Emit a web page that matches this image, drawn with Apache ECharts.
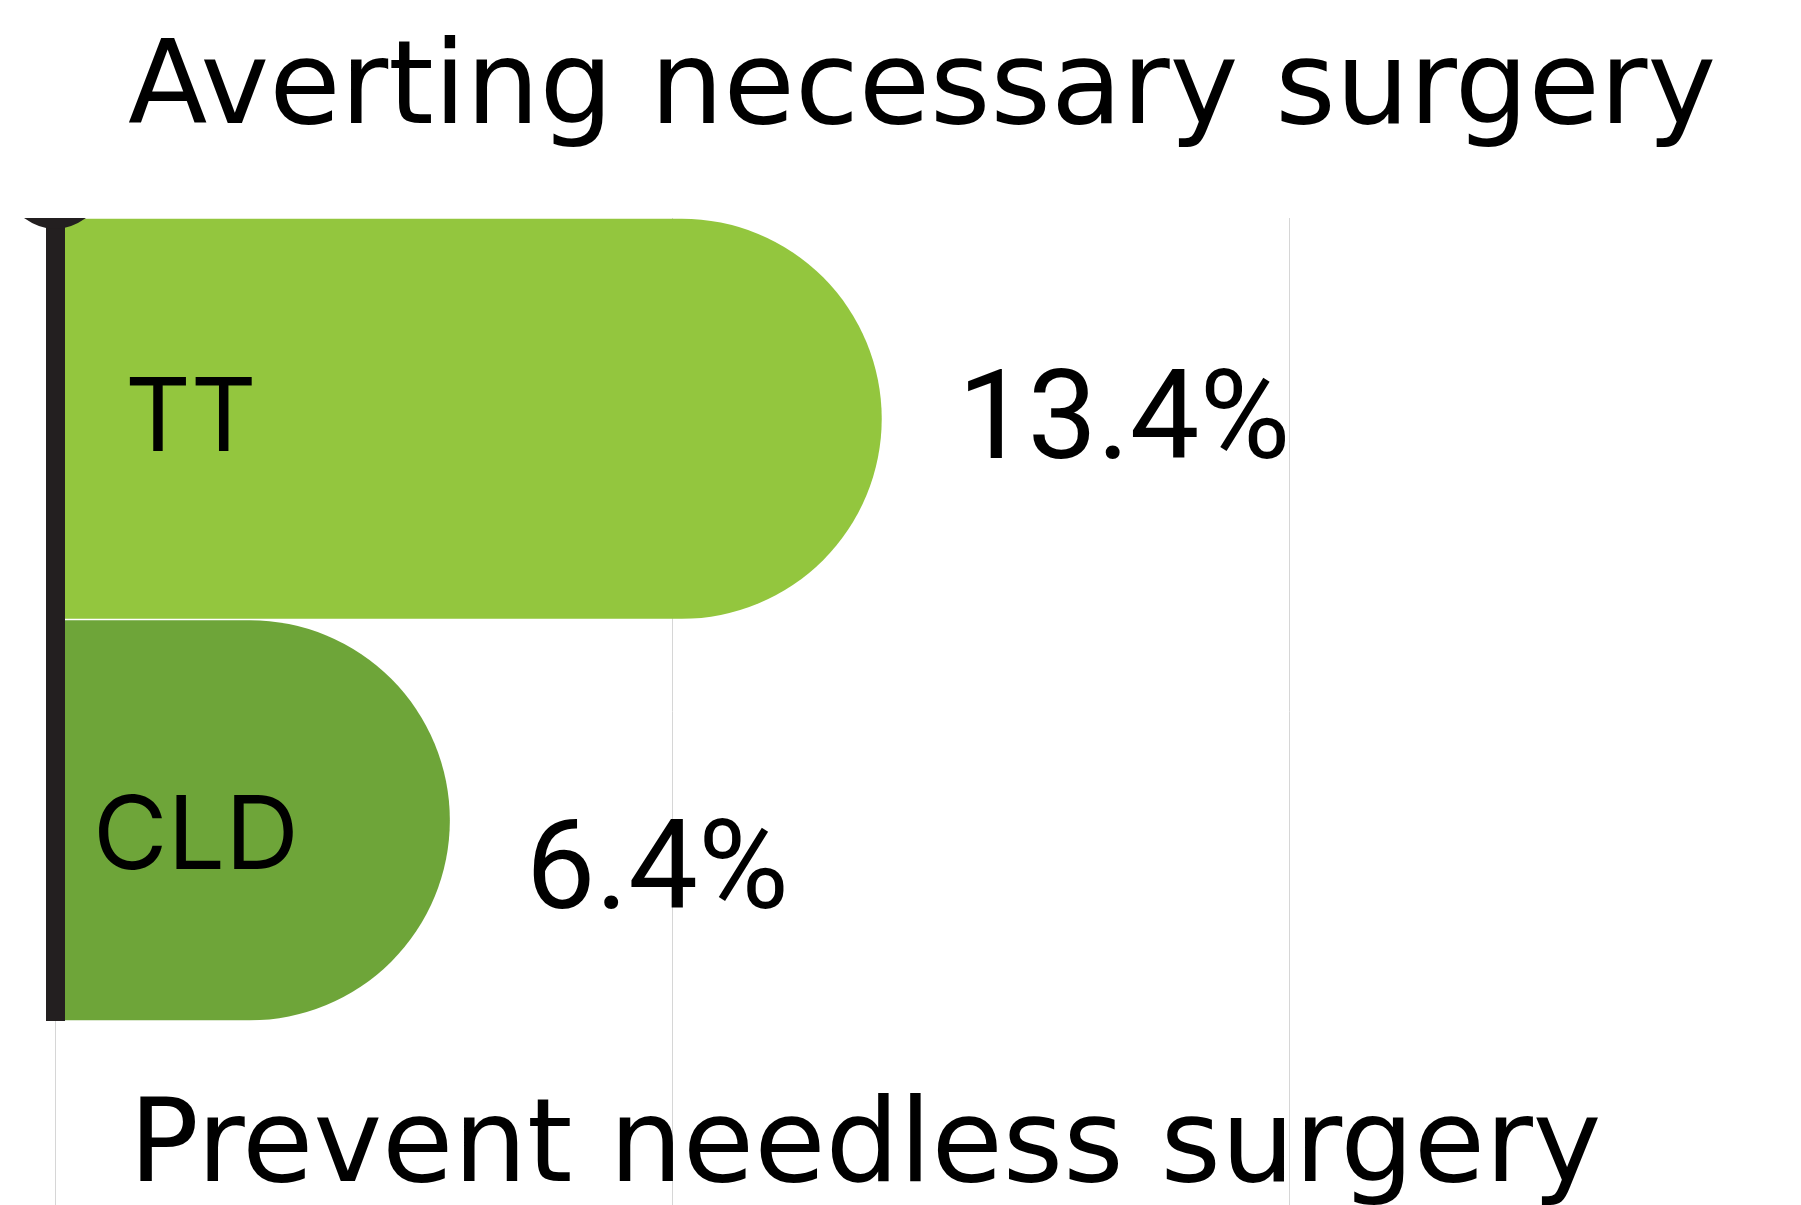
<!DOCTYPE html>
<html>
<head>
<meta charset="utf-8">
<script src="https://cdn.jsdelivr.net/npm/echarts@6/dist/echarts.min.js"></script>
<style>
html, body { margin: 0; padding: 0; background: #fff; }
#main { width: 1801px; height: 1205px; }
</style>
</head>
<body>
<div id="main"></div>
<script>
// data
var categories = ['TT', 'CLD'];
var values = [13.4, 6.4];
var barColors = ['#93c63e', '#6ea539'];
var topTitle = 'Averting necessary surgery';
var bottomTitle = 'Prevent needless surgery';

// label nudges (style only)
var valueLabelOffsets = [[0, 8], [0, 57]];
var nameLabelPads = [[4, 0, 0, 32], [36, 0, 0, 0]];

var TITLE_FONT = 'DejaVu Sans';
var LABEL_FONT = 'Inter';
var VALUE_FONT = 'Roboto';
var myChart = echarts.init(document.getElementById('main'));

var option = {
    backgroundColor: '#fff',
    animation: false,
    title: [
        {
            text: topTitle,
            left: 128, top: 35, padding: 0,
            textStyle: { fontFamily: TITLE_FONT, fontSize: 116, fontWeight: 400, color: '#000', lineHeight: 116 }
        },
        {
            text: bottomTitle,
            left: 129, top: 1093, padding: 0,
            textStyle: { fontFamily: TITLE_FONT, fontSize: 116, fontWeight: 400, color: '#000', lineHeight: 116 }
        }
    ],
    grid: [
        { left: 55, top: 218, height: 803, right: 0 },   // bars
        { left: 55, top: 218, bottom: 0, right: 0 }      // tall grid lines
    ],
    xAxis: [
        {
            type: 'value', gridIndex: 0, min: 0, max: 28.3, interval: 10,
            axisLine: { show: false }, axisTick: { show: false },
            axisLabel: { show: false }, splitLine: { show: false }
        },
        {
            type: 'value', gridIndex: 1, min: 0, max: 28.3, interval: 10,
            axisLine: { show: false }, axisTick: { show: false },
            axisLabel: { show: false },
            splitLine: { show: true, lineStyle: { color: '#d6d6d6', width: 1 } }
        }
    ],
    yAxis: [
        {
            type: 'category', gridIndex: 0, data: categories, inverse: true, z: 5,
            axisTick: { show: false },
            axisLine: {
                show: true,
                lineStyle: { color: '#231f20', width: 19, cap: 'butt' },
                symbol: ['none', 'path://M0,0 L62,0 Q31,22 0,0 Z'],
                symbolSize: [62, 11],
                symbolOffset: [4, -5.5]
            },
            axisLabel: {
                inside: true, margin: 38,
                fontFamily: LABEL_FONT, fontSize: 102, color: '#000',
                formatter: function (v, i) { return '{n' + i + '|' + v + '}'; },
                rich: {
                    n0: { fontFamily: LABEL_FONT, fontSize: 102, color: '#000', padding: nameLabelPads[0] },
                    n1: { fontFamily: LABEL_FONT, fontSize: 102, color: '#000', padding: nameLabelPads[1] }
                }
            }
        },
        { type: 'value', gridIndex: 1, show: false, min: 0, max: 1 }
    ],
    series: [
        {
            type: 'bar',
            xAxisIndex: 0, yAxisIndex: 0,
            barWidth: 400,
            data: values.map(function (v, i) {
                return { value: v, label: { offset: valueLabelOffsets[i] } };
            }),
            itemStyle: {
                color: function (p) { return barColors[p.dataIndex]; },
                borderRadius: [0, 200, 200, 0]
            },
            label: {
                show: true, position: 'right', distance: 76,
                formatter: '{c}%',
                fontFamily: VALUE_FONT, fontSize: 124, color: '#000'
            }
        }
    ]
};
myChart.setOption(option);
</script>
</body>
</html>
